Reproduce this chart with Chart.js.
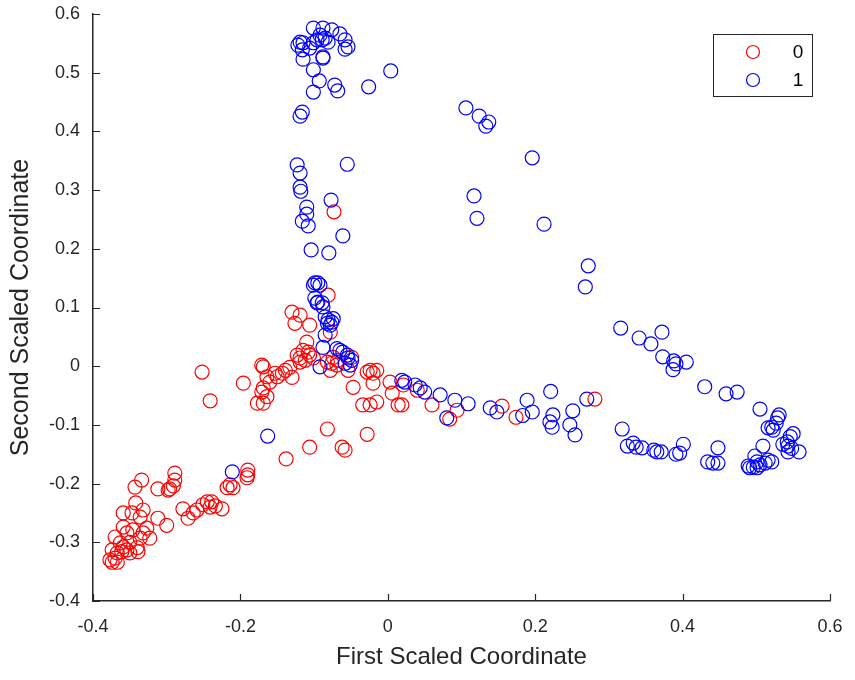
<!DOCTYPE html>
<html>
<head>
<meta charset="utf-8">
<script src="https://cdn.jsdelivr.net/npm/chart.js@4"></script>
<style>
  body { margin: 0; background: #fff; }
</style>
</head>
<body>
<canvas id="mdsPlot" width="855" height="680"></canvas>
<script>
// group labels
const groups = ['0', '1']

// group 0 (red)
const redX = [
    -0.073, -0.081,
    -0.130, -0.119, -0.126, -0.106, -0.078, -0.110, -0.115, -0.123, -0.119, -0.106, -0.101, -0.108, -0.112,
    -0.074, -0.076, -0.069, -0.068, -0.078, -0.054, -0.049, -0.133, -0.139, -0.024, -0.020, -0.015, -0.143, -0.130,
    -0.252, -0.241, -0.196, -0.171, -0.169, -0.164, -0.153, -0.150, -0.160, -0.169, -0.171, -0.164, -0.177, -0.169,
    -0.119, -0.082, -0.047, -0.028, -0.020, 0.003, 0.006, -0.034, -0.024, -0.015, 0.014,
    -0.082, -0.028, -0.106, -0.062, -0.058, -0.138, -0.190,
    0.021, 0.019, 0.040, 0.060, 0.094, 0.084, 0.155, 0.174, 0.281,
    -0.190, -0.191, -0.214, -0.218, -0.210, -0.289, -0.289, -0.291, -0.296, -0.334, -0.343, -0.312, -0.298,
    -0.278, -0.271, -0.264, -0.259, -0.251, -0.245, -0.239, -0.234, -0.225, -0.241,
    -0.342, -0.359, -0.332, -0.336, -0.347, -0.312, -0.300, -0.359, -0.327, -0.346, -0.354, -0.370, -0.332,
    -0.323, -0.336, -0.350, -0.363, -0.359, -0.340, -0.354, -0.374, -0.367, -0.361, -0.370, -0.374, -0.367,
    -0.377, -0.339, -0.350
]
const redY = [
    0.263, 0.121,
    0.092, 0.087, 0.073, 0.070, 0.058, 0.041, 0.027, 0.019, 0.014, 0.019, 0.014, 0.024, 0.010,
    0.015, 0.005, 0.002, 0.010, -0.007, -0.007, 0.015, -0.002, -0.007, -0.007, -0.012, -0.007, -0.012, -0.019,
    -0.010, -0.059, -0.029, 0.002, -0.001, -0.018, -0.012, -0.018, -0.027, -0.037, -0.044, -0.052, -0.063, -0.063,
    0.007, 0.007, -0.036, -0.010, -0.029, -0.027, -0.046, -0.066, -0.066, -0.061, -0.066,
    -0.107, -0.116, -0.138, -0.138, -0.143, -0.158, -0.177,
    -0.032, -0.066, -0.041, -0.066, -0.075, -0.090, -0.068, -0.087, -0.056,
    -0.185, -0.190, -0.202, -0.207, -0.207, -0.182, -0.194, -0.204, -0.209, -0.194, -0.206, -0.209, -0.211,
    -0.243, -0.259, -0.250, -0.245, -0.236, -0.231, -0.231, -0.238, -0.243, -0.240,
    -0.233, -0.250, -0.245, -0.257, -0.250, -0.259, -0.271, -0.274, -0.276, -0.279, -0.284, -0.291, -0.284,
    -0.293, -0.293, -0.300, -0.301, -0.308, -0.309, -0.313, -0.313, -0.318, -0.316, -0.327, -0.334, -0.334,
    -0.330, -0.316, -0.318
]

// group 1 (blue)
const blueX = [
    -0.101, -0.088, -0.076, -0.065, -0.058, -0.054, -0.058, -0.119, -0.122, -0.115, -0.116, -0.101, -0.092, -0.089, -0.085,
    -0.096, -0.081, -0.106, -0.115, -0.088, -0.088, -0.101, -0.093, -0.101, -0.072, -0.068, -0.026, 0.004, -0.116, -0.119,
    -0.123, -0.119, -0.119, -0.118, -0.055, -0.077, -0.110, -0.110, -0.116, -0.108, -0.061, -0.104, -0.080,
    -0.099, -0.095, -0.092, -0.101, -0.099, -0.095, -0.089, -0.096, -0.088, -0.085, -0.081, -0.076, -0.074, -0.082, -0.078,
    -0.085, -0.088, -0.065, -0.061, -0.055, -0.054, -0.049, -0.058, -0.051, -0.092, -0.069,
    -0.163, -0.211,
    0.019, 0.023, 0.037, 0.044, 0.050, 0.071, 0.091, 0.109, 0.080, 0.139, 0.148, 0.189, 0.183, 0.196, 0.221,
    0.224, 0.220, 0.223, 0.251, 0.247, 0.254, 0.270,
    0.106, 0.124, 0.137, 0.133, 0.196, 0.117, 0.121, 0.212, 0.272, 0.268,
    0.316, 0.341, 0.357, 0.372, 0.373, 0.388, 0.391, 0.387, 0.405, 0.430, 0.459, 0.474,
    0.505, 0.531, 0.529, 0.527, 0.521, 0.516, 0.523, 0.550, 0.546, 0.542, 0.536, 0.543, 0.548, 0.558, 0.543,
    0.318, 0.325, 0.333, 0.337, 0.345, 0.361, 0.365, 0.371, 0.391, 0.396, 0.401, 0.434, 0.441, 0.448, 0.448,
    0.509, 0.489, 0.496, 0.501, 0.505, 0.512, 0.516, 0.521, 0.498, 0.491, 0.501
]
const blueY = [
    0.576, 0.576, 0.573, 0.566, 0.556, 0.544, 0.540, 0.552, 0.547, 0.551, 0.539, 0.551, 0.564, 0.556, 0.559,
    0.556, 0.552, 0.542, 0.523, 0.525, 0.527, 0.505, 0.486, 0.467, 0.479, 0.469, 0.476, 0.503, 0.433, 0.426,
    0.343, 0.329, 0.305, 0.298, 0.344, 0.283, 0.271, 0.259, 0.247, 0.239, 0.222, 0.198, 0.193,
    0.142, 0.142, 0.138, 0.138, 0.116, 0.109, 0.108, 0.108, 0.101, 0.084, 0.079, 0.075, 0.081, 0.073, 0.070,
    0.053, 0.032, 0.027, 0.024, 0.019, 0.014, 0.010, 0.005, 0.002, -0.001, 0.030,
    -0.119, -0.180,
    -0.024, -0.027, -0.032, -0.037, -0.044, -0.049, -0.058, -0.064, -0.088, -0.071, -0.078, -0.058, -0.084, -0.078, -0.043,
    -0.083, -0.095, -0.104, -0.076, -0.100, -0.117, -0.056,
    0.440, 0.426, 0.416, 0.409, 0.355, 0.290, 0.252, 0.242, 0.171, 0.135,
    0.065, 0.048, 0.038, 0.058, 0.016, 0.009, 0.004, -0.006, 0.007, -0.035, -0.047, -0.044,
    -0.073, -0.083, -0.088, -0.097, -0.104, -0.105, -0.109, -0.115, -0.120, -0.129, -0.133, -0.136, -0.140, -0.146, -0.146,
    -0.107, -0.136, -0.131, -0.138, -0.139, -0.143, -0.146, -0.146, -0.150, -0.148, -0.133, -0.163, -0.165, -0.165, -0.139,
    -0.136, -0.170, -0.172, -0.163, -0.168, -0.165, -0.160, -0.163, -0.153, -0.173, -0.173
]

// axis ticks
const xTicks = [-0.4, -0.2, 0, 0.2, 0.4, 0.6]
const yTicks = [-0.4, -0.3, -0.2, -0.1, 0, 0.1, 0.2, 0.3, 0.4, 0.5, 0.6]

const groupColors = ['#ff0000', '#0000ff']
const axisColor = '#262626'
const fontFamily = '"Liberation Sans", Arial, Helvetica, sans-serif'

const toPoints = (xs, ys) => xs.map((x, i) => ({ x: x, y: ys[i] }))
const fmt = (v) => {
    const r = Math.round(v * 10) / 10
    return r === 0 ? '0' : String(r)
}

// MATLAB style inward tick marks
const inwardTicks = {
    id: 'inwardTicks',
    afterDraw(chart) {
        const ctx = chart.ctx
        const area = chart.chartArea
        const xs = chart.scales.x
        const ys = chart.scales.y
        const len = 7
        ctx.save()
        ctx.strokeStyle = axisColor
        ctx.lineWidth = 1.2
        ctx.beginPath()
        xTicks.forEach((v) => {
            const px = Math.round(xs.getPixelForValue(v)) + 0.5
            ctx.moveTo(px, area.bottom)
            ctx.lineTo(px, area.bottom - len)
        })
        yTicks.forEach((v) => {
            const py = Math.round(ys.getPixelForValue(v)) + 0.5
            ctx.moveTo(area.left, py)
            ctx.lineTo(area.left + len, py)
        })
        ctx.stroke()
        ctx.restore()
    }
}

// legend box in the upper right corner
const boxLegend = {
    id: 'boxLegend',
    afterDraw(chart) {
        const ctx = chart.ctx
        const bx = 713.5, by = 34.5, bw = 99, bh = 62
        ctx.save()
        ctx.fillStyle = '#ffffff'
        ctx.fillRect(bx, by, bw, bh)
        ctx.strokeStyle = axisColor
        ctx.lineWidth = 1
        ctx.strokeRect(bx, by, bw, bh)
        chart.data.datasets.forEach((ds, i) => {
            const cy = 52 + i * 28
            ctx.beginPath()
            ctx.arc(753, cy, 6.5, 0, Math.PI * 2)
            ctx.strokeStyle = ds.borderColor
            ctx.lineWidth = 1.2
            ctx.stroke()
            ctx.fillStyle = '#000'
            ctx.font = '19px ' + fontFamily
            ctx.textAlign = 'center'
            ctx.textBaseline = 'middle'
            ctx.fillText(ds.label, 798, cy + 1)
        })
        ctx.restore()
    }
}

const makeDataset = (i, xs, ys, order) => ({
    label: groups[i],
    data: toPoints(xs, ys),
    pointStyle: 'circle',
    pointRadius: 7,
    pointHoverRadius: 7,
    pointBorderWidth: 1.2,
    borderColor: groupColors[i],
    backgroundColor: 'rgba(0,0,0,0)',
    order: order
})

const mdsPlot = new Chart(document.getElementById('mdsPlot'), {
    type: 'scatter',
    data: {
        datasets: [
            makeDataset(0, redX, redY, 1),
            makeDataset(1, blueX, blueY, 0)
        ]
    },
    options: {
        responsive: false,
        animation: false,
        events: [],
        layout: { padding: { top: 14, right: 25, left: 0, bottom: 0 } },
        plugins: {
            legend: { display: false },
            tooltip: { enabled: false }
        },
        scales: {
            x: {
                type: 'linear',
                min: -0.4,
                max: 0.6,
                afterBuildTicks: (scale) => { scale.ticks = xTicks.map(v => ({ value: v })) },
                afterFit: (scale) => {
                    scale.height = 79
                    scale.paddingLeft = 0
                    scale.paddingRight = 0
                },
                grid: { display: true, drawOnChartArea: false, drawTicks: false },
                border: { display: true, color: axisColor, width: 1.5 },
                ticks: {
                    padding: 15,
                    color: axisColor,
                    font: { family: fontFamily, size: 18 },
                    maxRotation: 0,
                    callback: (v) => fmt(v)
                },
                title: {
                    display: true,
                    text: 'First Scaled Coordinate',
                    color: axisColor,
                    font: { family: fontFamily, size: 24 },
                    padding: { top: 0, bottom: 8 }
                }
            },
            y: {
                type: 'linear',
                min: -0.4,
                max: 0.6,
                afterBuildTicks: (scale) => { scale.ticks = yTicks.map(v => ({ value: v })) },
                afterFit: (scale) => {
                    scale.width = 93
                    scale.paddingTop = 0
                    scale.paddingBottom = 0
                },
                grid: { display: true, drawOnChartArea: false, drawTicks: false },
                border: { display: true, color: axisColor, width: 1.5 },
                ticks: {
                    padding: 13,
                    color: axisColor,
                    font: { family: fontFamily, size: 18 },
                    callback: (v) => fmt(v)
                },
                title: {
                    display: true,
                    text: 'Second Scaled Coordinate',
                    color: axisColor,
                    font: { family: fontFamily, size: 25 },
                    padding: { top: 6, bottom: 0 }
                }
            }
        }
    },
    plugins: [inwardTicks, boxLegend]
});
</script>
</body>
</html>
